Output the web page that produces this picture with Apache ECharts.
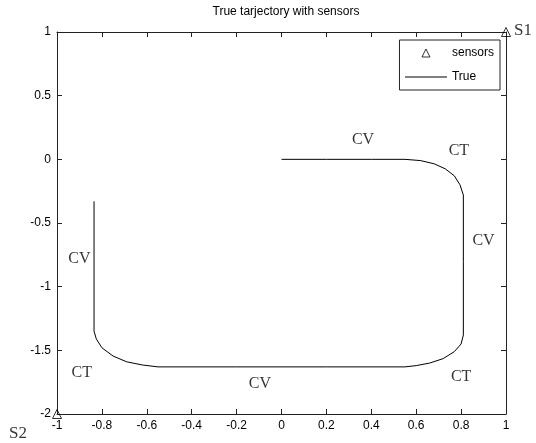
<!DOCTYPE html>
<html>
<head>
<meta charset="utf-8">
<script src="https://cdn.jsdelivr.net/npm/echarts@6/dist/echarts.min.js"></script>
<style>html,body{margin:0;padding:0;background:#fff}#c{width:536px;height:443px}</style>
</head>
<body>
<div id="c"></div>
<script>
// ---- data ----
var titleText = 'True tarjectory with sensors';
var sensorNames = ['S1', 'S2'];
var sensorX = [1, -1];
var sensorY = [1, -2];
var trueX = [0, 0.20, 0.40, 0.55, 0.62, 0.68, 0.73, 0.77, 0.795, 0.81, 0.81, 0.81, 0.80, 0.77, 0.72, 0.66, 0.60, 0.55, 0.20, -0.20, -0.55, -0.62, -0.69, -0.75, -0.80, -0.825, -0.835, -0.835];
var trueY = [0, 0, 0, 0, -0.01, -0.035, -0.075, -0.13, -0.20, -0.28, -0.80, -1.38, -1.45, -1.51, -1.565, -1.60, -1.62, -1.63, -1.63, -1.63, -1.63, -1.615, -1.59, -1.545, -1.48, -1.41, -1.35, -0.33];
var noteText = ['CV', 'CT', 'CV', 'CV', 'CT', 'CV', 'CT'];
var noteX = [0.363, 0.79, 0.90, -0.90, -0.89, -0.096, 0.80];
var noteY = [0.15, 0.07, -0.64, -0.78, -1.68, -1.76, -1.71];
var xTicks = {min: -1, max: 1, step: 0.2};
var yTicks = {min: -2, max: 1, step: 0.5};

// ---- chart ----
var axisCol = '#222';
var sansFont = 'Liberation Sans';
var serifFont = 'Liberation Serif';
function zip(a, b) { return a.map(function (v, i) { return [v, b[i]]; }); }

function xAx(pos, showLabel) {
  return {
    type: 'value', position: pos, min: xTicks.min, max: xTicks.max, interval: xTicks.step,
    axisLine: {show: true, onZero: false, lineStyle: {color: axisCol, width: 1}},
    axisTick: {show: true, inside: true, length: 5, lineStyle: {color: axisCol}},
    axisLabel: {show: showLabel, color: '#000', fontFamily: sansFont, fontSize: 12, margin: 6},
    splitLine: {show: false}
  };
}
function yAx(pos, showLabel) {
  return {
    type: 'value', position: pos, min: yTicks.min, max: yTicks.max, interval: yTicks.step,
    axisLine: {show: true, onZero: false, lineStyle: {color: axisCol, width: 1}},
    axisTick: {show: true, inside: true, length: 5, lineStyle: {color: axisCol}},
    axisLabel: {show: showLabel, color: '#000', fontFamily: sansFont, fontSize: 12, margin: 6},
    splitLine: {show: false}
  };
}

var sensorData = zip(sensorX, sensorY).map(function (p, i) {
  var d = {value: p, name: sensorNames[i]};
  if (i === 0) d.label = {position: 'right', distance: 3, offset: [0, -1]};
  else d.label = {position: 'left', distance: 5, offset: [-20, 20]};
  return d;
});

var chart = echarts.init(document.getElementById('c'), null, {renderer: 'canvas'});
chart.setOption({
  animation: false,
  backgroundColor: '#fff',
  title: {text: titleText, left: 281, top: 1, textAlign: 'center',
    textStyle: {fontFamily: sansFont, fontSize: 12, fontWeight: 'normal', color: '#000'}},
  grid: {left: 57, right: 30, top: 32, bottom: 29, containLabel: false},
  xAxis: [xAx('bottom', true), xAx('top', false)],
  yAxis: [yAx('left', true), yAx('right', false)],
  legend: {
    orient: 'vertical', right: 36, top: 40,
    backgroundColor: '#fff', borderColor: axisCol, borderWidth: 1,
    padding: [7, 6, 7, 5], itemGap: 12, itemWidth: 42, itemHeight: 10,
    textStyle: {fontFamily: sansFont, fontSize: 12, color: '#000'},
    data: [
      {name: 'sensors', icon: 'path://M0,0 M42,10 M17,9 L21,1 L25,9 Z',
        itemStyle: {color: 'transparent', borderColor: '#000', borderWidth: 1}},
      {name: 'True', icon: 'path://M0,0 M42,10 M0,4.5 L42,4.5 L42,5.5 L0,5.5 Z',
        itemStyle: {color: '#000', borderWidth: 0}}
    ]
  },
  series: [
    {
      name: 'sensors', type: 'scatter', xAxisIndex: 0, yAxisIndex: 0, clip: false,
      symbol: 'triangle', symbolSize: 9,
      itemStyle: {color: 'transparent', borderColor: '#000', borderWidth: 1},
      label: {show: true, formatter: '{b}', fontFamily: serifFont, fontSize: 17, color: '#000'},
      data: sensorData, z: 5
    },
    {
      name: 'True', type: 'line', xAxisIndex: 0, yAxisIndex: 0,
      symbol: 'none', smooth: false,
      lineStyle: {color: '#000', width: 1}, itemStyle: {color: '#000'},
      data: zip(trueX, trueY)
    },
    {
      name: 'notes', type: 'scatter', xAxisIndex: 0, yAxisIndex: 0, silent: true,
      symbolSize: 0,
      label: {show: true, position: 'inside', formatter: '{b}', fontFamily: serifFont, fontSize: 16, color: '#000'},
      data: zip(noteX, noteY).map(function (p, i) { return {value: p, name: noteText[i]}; })
    }
  ]
});
</script>
</body>
</html>
